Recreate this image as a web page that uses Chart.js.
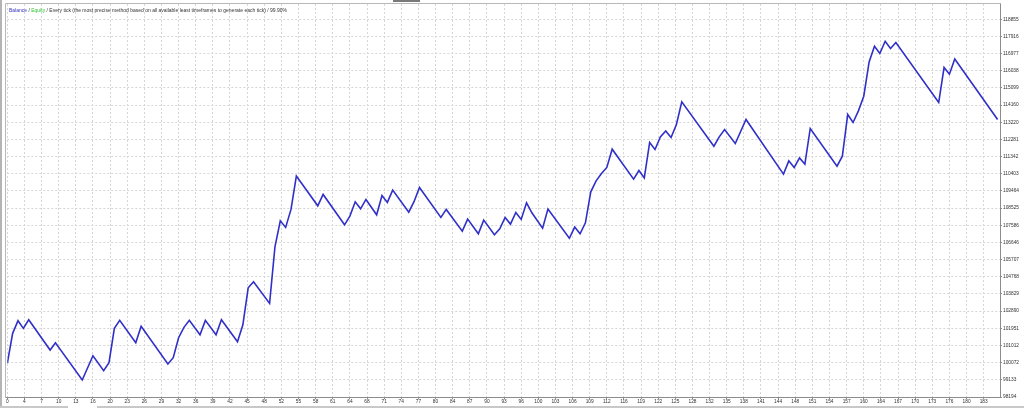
<!DOCTYPE html>
<html>
<head>
<meta charset="utf-8">
<script src="https://cdn.jsdelivr.net/npm/chart.js@4/dist/chart.umd.min.js"></script>
<style>
  html, body { margin: 0; padding: 0; background: #ffffff; }
  #wrap { width: 1024px; height: 408px; }
</style>
</head>
<body>
<div id="wrap"><canvas id="c" width="1024" height="408"></canvas></div>
<script>
// ---- data (trade number -> balance at turning points) ----
const tradeNo = [0,1,2,3,4,8,9,14,16,18,19,20,21,24,25,30,31,32,33,34,36,37,39,40,43,44,45,46,49,50,51,52,53,54,58,59,63,64,65,66,67,69,70,71,72,75,76,77,81,82,85,86,88,89,91,92,93,94,95,96,97,98,100,101,105,106,107,108,109,110,111,112,113,117,118,119,120,121,122,123,124,125,126,132,133,134,136,138,145,146,147,148,149,150,155,156,157,158,159,160,161,162,163,164,165,166,174,175,176,177,185];
const balance = [100036,101676,102365,101949,102419,100763,101162,99123,100451,99632,100069,101949,102386,101162,102058,99998,100342,101435,102004,102386,101599,102386,101599,102419,101217,102130,104168,104496,103316,106409,107831,107470,108454,110274,108651,109274,107612,108087,108869,108486,109000,108159,109219,108836,109509,108306,108891,109656,108016,108454,107268,107923,107120,107869,107065,107393,108016,107650,108290,107907,108815,108268,107432,108470,106874,107486,107120,107721,109416,110017,110421,110749,111750,110110,110585,110181,112116,111733,112422,112750,112389,113100,114335,111914,112422,112826,112061,113373,110383,111110,110749,111274,110930,112881,110820,111367,113646,113209,113843,114647,116521,117380,116981,117653,117254,117582,114302,116215,115849,116685,113373];

const xTickLabels = ['0','4','7','10','13','16','20','23','26','29','32','36','39','42','45','48','52','55','58','61','64','68','71','74','77','80','84','87','90','93','96','100','103','106','109','112','116','119','122','125','128','132','135','138','141','144','148','151','154','157','160','164','167','170','173','176','180','183'];
const yTickLabels = ['98194','99133','100072','101012','101951','102890','103829','104768','105707','106646','107586','108525','109464','110403','111342','112281','113220','114160','115099','116038','116977','117916','118855'];

const legendParts = [
  { text: 'Balance', color: '#3434c4' },
  { text: ' / ', color: '#333333' },
  { text: 'Equity', color: '#2fc62f' },
  { text: ' / Every tick (the most precise method based on all available least timeframes to generate each tick) / 99.90%', color: '#333333' }
];

// ---- layout constants ----
const X_GRID_STEP = 3.2;   // trades between vertical grid lines
const X_MAX = 185.45;
const Y_MIN = 98194;
const Y_MAX = 119690;
const FONT = '"Liberation Sans", Arial, sans-serif';

const points = tradeNo.map((t, i) => ({ x: t, y: balance[i] }));

const framePlugin = {
  id: 'frame',
  beforeDraw(chart) {
    const ctx = chart.ctx;
    ctx.save();
    ctx.fillStyle = '#ffffff';
    ctx.fillRect(0, 0, chart.width, chart.height);
    ctx.restore();
  },
  afterDraw(chart) {
    const ctx = chart.ctx;
    const a = chart.chartArea;
    ctx.save();
    // window edges
    ctx.fillStyle = '#b4b4b4';
    ctx.fillRect(0, 0, 2, chart.height);
    ctx.fillStyle = '#7a7a7a';
    ctx.fillRect(393, 0, 27, 2);
    ctx.fillStyle = '#c8c8c8';
    ctx.fillRect(0, 406, chart.width, 2);
    ctx.fillStyle = '#ffffff';
    ctx.fillRect(68, 406, 29, 2);
    // chart frame
    ctx.lineWidth = 1;
    ctx.strokeStyle = '#b8b8b8';
    ctx.beginPath();
    ctx.moveTo(5.5, 397.5);
    ctx.lineTo(5.5, 3.5);
    ctx.lineTo(a.right + 0.5, 3.5);
    ctx.stroke();
    ctx.strokeStyle = '#8c8c8c';
    ctx.beginPath();
    ctx.moveTo(a.right + 0.5, 3.5);
    ctx.lineTo(a.right + 0.5, a.bottom + 0.5);
    ctx.lineTo(5.5, a.bottom + 0.5);
    ctx.stroke();
    // legend line
    ctx.font = '5px ' + FONT;
    ctx.textBaseline = 'middle';
    let x = 9;
    for (const p of legendParts) {
      ctx.fillStyle = p.color;
      ctx.fillText(p.text, x, 10.5);
      x += ctx.measureText(p.text).width;
    }
    ctx.restore();
  }
};

new Chart(document.getElementById('c'), {
  type: 'line',
  data: {
    datasets: [{
      data: points,
      borderColor: '#3030c8',
      borderWidth: 1.6,
      pointRadius: 0,
      tension: 0,
      fill: false
    }]
  },
  options: {
    responsive: false,
    animation: false,
    devicePixelRatio: 1,
    layout: { padding: { left: 7.3, top: 4, right: 0, bottom: 0 } },
    plugins: { legend: { display: false }, tooltip: { enabled: false }, title: { display: false } },
    scales: {
      x: {
        type: 'linear',
        min: 0,
        max: X_MAX,
        afterBuildTicks: s => { s.ticks = xTickLabels.map((l, k) => ({ value: k * X_GRID_STEP })); },
        afterFit: s => { s.height = 11; },
        grid: { color: '#d6d6d6', lineWidth: 1, drawTicks: true, tickLength: 2, tickColor: '#8c8c8c', tickBorderDash: [] },
        border: { display: false, dash: [2, 2] },
        ticks: {
          autoSkip: false, maxRotation: 0, minRotation: 0, padding: 0,
          color: '#303030', font: { family: FONT, size: 4.8 },
          callback: (v, i) => xTickLabels[i]
        }
      },
      y: {
        type: 'linear',
        position: 'right',
        min: Y_MIN,
        max: Y_MAX,
        afterBuildTicks: s => { s.ticks = yTickLabels.map(l => ({ value: Number(l) })); },
        afterFit: s => { s.width = 24; },
        grid: { color: '#d6d6d6', lineWidth: 1, drawTicks: true, tickLength: 2, tickColor: '#8c8c8c', tickBorderDash: [] },
        border: { display: false, dash: [2, 2] },
        ticks: {
          padding: 1,
          color: '#303030', font: { family: FONT, size: 4.8 },
          callback: (v, i) => yTickLabels[i]
        }
      }
    }
  },
  plugins: [framePlugin]
});
</script>
</body>
</html>
